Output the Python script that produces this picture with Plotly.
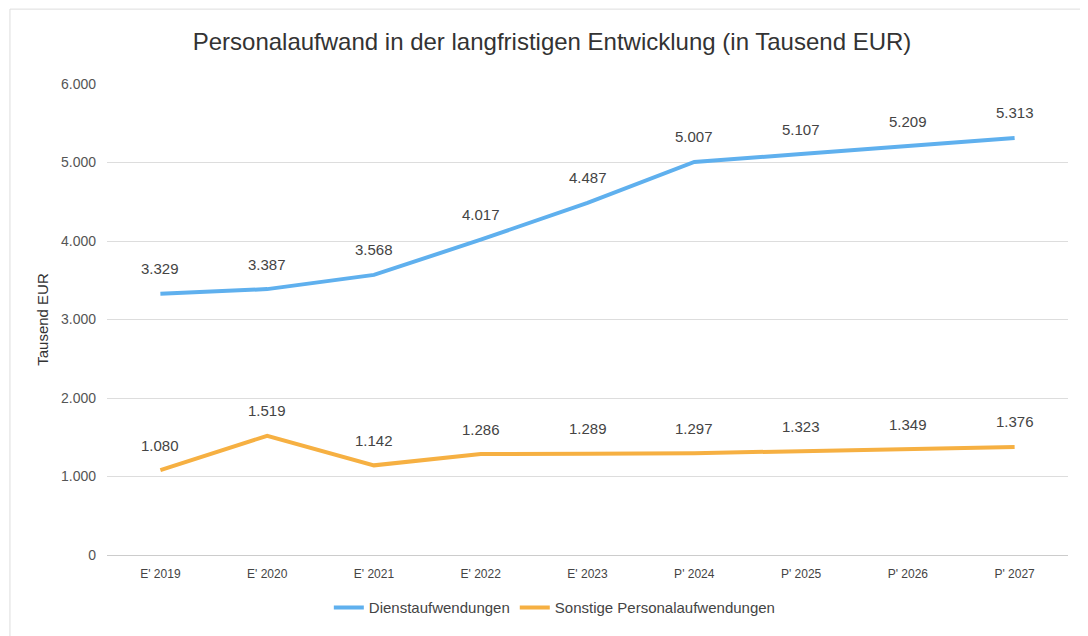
import plotly.graph_objects as go

categories = ["E' 2019", "E' 2020", "E' 2021", "E' 2022", "E' 2023",
              "P' 2024", "P' 2025", "P' 2026", "P' 2027"]
dienst = [3329, 3387, 3568, 4017, 4487, 5007, 5107, 5209, 5313]
sonstige = [1080, 1519, 1142, 1286, 1289, 1297, 1323, 1349, 1376]
y_ticks = [0, 1000, 2000, 3000, 4000, 5000, 6000]

BLUE = "#5fb0ee"
ORANGE = "#f6b042"
FONT = "Liberation Sans, Arial, sans-serif"

fig = go.Figure()
fig.add_trace(go.Scatter(x=categories, y=dienst, mode="lines", name="Dienstaufwendungen",
                         line=dict(color=BLUE, width=4)))
fig.add_trace(go.Scatter(x=categories, y=sonstige, mode="lines", name="Sonstige Personalaufwendungen",
                         line=dict(color=ORANGE, width=4)))

def fmt(v):
    return f"{v:,}".replace(",", ".")

annotations = []
for series in (dienst, sonstige):
    for c, v in zip(categories, series):
        annotations.append(dict(x=c, y=v, xref="x", yref="y", text=fmt(v), showarrow=False,
                                yshift=25, font=dict(size=15, color="#444444", family=FONT)))

fig.update_layout(
    width=1088, height=636,
    paper_bgcolor="white", plot_bgcolor="white",
    margin=dict(l=99, r=28, t=76, b=89),
    separators=",.",
    font=dict(family=FONT, color="#444444"),
    title=dict(text="Personalaufwand in der langfristigen Entwicklung (in Tausend EUR)",
               x=0.5, xref="container", xanchor="center", y=0.9465, yanchor="middle",
               font=dict(size=24, color="#333333", family=FONT)),
    xaxis=dict(showgrid=False, showline=False, ticks="", tickfont=dict(size=12, color="#444444"),
               range=[-0.5, 8.5], ticklabelstandoff=10),
    yaxis=dict(range=[0, 6000], tickvals=y_ticks, tickformat=",d", showgrid=True,
               gridcolor="#dddddd", gridwidth=1, zeroline=True, zerolinecolor="#cccccc",
               zerolinewidth=1, ticks="", ticklen=0, ticklabelstandoff=10,
               tickfont=dict(size=14, color="#555555"),
               title=dict(text="Tausend EUR", font=dict(size=15, color="#333333"), standoff=8)),
    legend=dict(orientation="h", x=0.466, xanchor="center", y=-0.112, yanchor="middle",
                font=dict(size=15, color="#444444"), traceorder="normal"),
    annotations=annotations,
    shapes=[dict(type="rect", xref="paper", yref="paper", x0=-0.101, x1=1.03, y0=-0.2, y1=1.159,
                 line=dict(color="#dddddd", width=1), fillcolor="rgba(0,0,0,0)", layer="below")],
)

fig.write_html("out.html")
